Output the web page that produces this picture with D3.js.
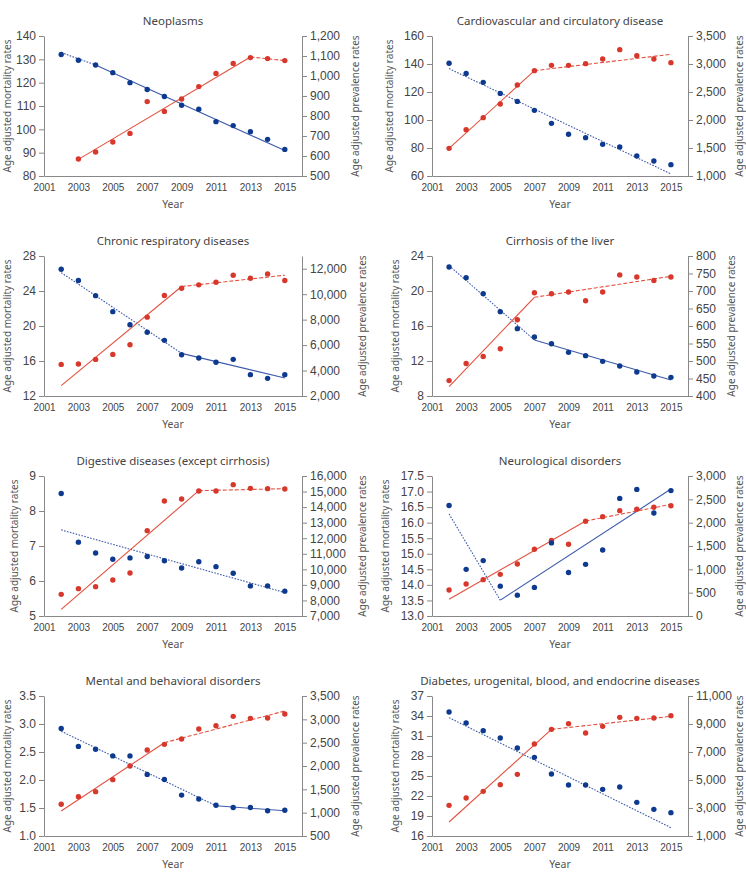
<!DOCTYPE html>
<html>
<head>
<meta charset="utf-8">
<script src="https://cdn.jsdelivr.net/npm/d3@7"></script>
<style>
  body { margin: 0; background: #fff; }
  svg text { font-family: "Noto Sans", sans-serif; }
  .tick text { font-family: "Liberation Sans", Arial, sans-serif; fill: #444; }
  .domain, .tick line { stroke: #888; }
</style>
</head>
<body>
<svg id="chart" width="746" height="881"></svg>
<script>
// years on the x axis
const years = [2002, 2003, 2004, 2005, 2006, 2007, 2008, 2009, 2010, 2011, 2012, 2013, 2014, 2015]
const xTicks = [2001, 2003, 2005, 2007, 2009, 2011, 2013, 2015]

const titles = [
  "Neoplasms",
  "Cardiovascular and circulatory disease",
  "Chronic respiratory diseases",
  "Cirrhosis of the liver",
  "Digestive diseases (except cirrhosis)",
  "Neurological disorders",
  "Mental and behavioral disorders",
  "Diabetes, urogenital, blood, and endocrine diseases"
]

// age adjusted mortality (left axis) / prevalence (right axis), one value per year
const neoplasmsMort = [132.1, 129.6, 127.6, 124.3, 120.0, 117.1, 114.1, 110.3, 108.6, 103.3, 101.6, 99.0, 95.7, 91.4]
const neoplasmsPrev = [null, 585, 620, 670, 713, 872, 823, 885, 947, 1013, 1063, 1092, 1087, 1077]
const cardioMort = [140.5, 133.3, 126.9, 119.0, 113.3, 106.9, 97.6, 89.8, 87.4, 82.6, 80.7, 74.3, 70.7, 68.1]
const cardioPrev = [1494, 1827, 2042, 2286, 2625, 2881, 2976, 2976, 3006, 3089, 3256, 3149, 3089, 3024]
const respMort = [26.48, 25.2, 23.47, 21.64, 20.15, 19.28, 18.36, 16.72, 16.34, 15.85, 16.19, 14.44, 14.02, 14.44]
const respPrev = [4484, 4510, 4876, 5268, 6026, 8196, 9895, 10471, 10732, 10941, 11490, 11255, 11595, 11072]
const liverMort = [22.74, 21.52, 19.7, 17.64, 15.7, 14.74, 13.98, 12.99, 12.61, 11.96, 11.43, 10.74, 10.29, 10.13]
const liverPrev = [444, 493, 513, 535, 618, 695, 692, 697, 672, 697, 746, 740, 730, 740]
const digestMort = [8.50, 7.11, 6.80, 6.62, 6.66, 6.70, 6.58, 6.37, 6.55, 6.41, 6.22, 5.86, 5.86, 5.71]
const digestPrev = [8393, 8757, 8886, 9315, 9765, 12486, 14393, 14522, 15036, 15036, 15443, 15207, 15186, 15164]
const neuroMort = [16.55, 14.5, 14.78, 13.96, 13.67, 13.92, 15.35, 14.40, 14.66, 15.12, 16.78, 17.07, 16.31, 17.03]
const neuroPrev = [557, 686, 779, 893, 1114, 1429, 1621, 1536, 2029, 2129, 2257, 2286, 2329, 2364]
const mentalMort = [2.92, 2.60, 2.55, 2.43, 2.43, 2.10, 2.01, 1.73, 1.66, 1.55, 1.51, 1.51, 1.45, 1.46]
const mentalPrev = [1179, 1343, 1450, 1707, 2000, 2343, 2464, 2579, 2793, 2864, 3064, 3021, 3029, 3114]
const diabetesMort = [34.6, 32.95, 31.8, 30.7, 29.2, 27.8, 25.3, 23.65, 23.65, 23.0, 23.35, 21.05, 20.0, 19.5]
const diabetesPrev = [3190, 3714, 4190, 4667, 5405, 7571, 8619, 9024, 8357, 8833, 9476, 9405, 9429, 9595]

// joinpoint fits: [year, value] at each joinpoint
const neoplasmsMortFit = [[2002, 132.9], [2004, 127.6], [2015, 90.9]]
const neoplasmsPrevFit = [[2003, 583], [2013, 1095], [2015, 1077]]
const cardioMortFit = [[2002, 136.7], [2015, 61.5]]
const cardioPrevFit = [[2002, 1494], [2007, 2881], [2015, 3173]]
const respMortFit = [[2002, 26.1], [2009, 16.87], [2015, 14.06]]
const respPrevFit = [[2002, 2810], [2009, 10601], [2015, 11490]]
const liverMortFit = [[2002, 22.9], [2007, 14.4], [2015, 9.83]]
const liverPrevFit = [[2002, 427], [2007, 682], [2015, 742]]
const digestMortFit = [[2002, 7.46], [2015, 5.67]]
const digestPrevFit = [[2002, 7429], [2010, 15057], [2015, 15186]]
const neuroMortFit = [[2002, 16.28], [2005, 13.51], [2015, 17.08]]
const neuroPrevFit = [[2002, 357], [2010, 2036], [2015, 2393]]
const mentalMortFit = [[2002, 2.87], [2011, 1.54], [2015, 1.45]]
const mentalPrevFit = [[2002, 1036], [2008, 2500], [2015, 3179]]
const diabetesMortFit = [[2002, 33.75], [2015, 17.25]]
const diabetesPrevFit = [[2002, 2000], [2008, 8619], [2015, 9548]]

// axis ranges
const mortDomains = [[80, 140], [60, 160], [12, 28], [8, 24], [5, 9], [13, 17.5], [1, 3.5], [16, 37]]
const mortSteps = [10, 20, 4, 4, 1, 0.5, 0.5, 3]
const prevDomains = [[500, 1200], [1000, 3500], [2000, 13000], [400, 800], [7000, 16000], [0, 3000], [500, 3500], [1000, 11000]]
const prevSteps = [100, 500, 2000, 50, 1000, 500, 500, 2000]

const mortSeries = [neoplasmsMort, cardioMort, respMort, liverMort, digestMort, neuroMort, mentalMort, diabetesMort]
const prevSeries = [neoplasmsPrev, cardioPrev, respPrev, liverPrev, digestPrev, neuroPrev, mentalPrev, diabetesPrev]
const mortFits = [neoplasmsMortFit, cardioMortFit, respMortFit, liverMortFit, digestMortFit, neuroMortFit, mentalMortFit, diabetesMortFit]
const prevFits = [neoplasmsPrevFit, cardioPrevFit, respPrevFit, liverPrevFit, digestPrevFit, neuroPrevFit, mentalPrevFit, diabetesPrevFit]

// layout
const colX = [44, 432]
const colW = [258, 256]
const rowY = [36, 256, 476, 696]
const plotH = 140
const pageW = 746

const blue = "#0d3a8e", blueLine = "#3d5aab"
const red = "#d8382c", redLine = "#e4513f"

const svg = d3.select("#chart")

titles.forEach((title, i) => {
  const col = i % 2, row = Math.floor(i / 2)
  const w = colW[col]
  const g = svg.append("g").attr("transform", `translate(${colX[col]},${rowY[row]})`)

  const x = d3.scaleLinear().domain([2001, 2016]).range([0, w])
  const yL = d3.scaleLinear().domain(mortDomains[i]).range([plotH, 0])
  const yR = d3.scaleLinear().domain(prevDomains[i]).range([plotH, 0])

  const tl = d3.range(mortDomains[i][0], mortDomains[i][1] + mortSteps[i] / 2, mortSteps[i])
  const tr = d3.range(prevDomains[i][0], prevDomains[i][1] + prevSteps[i] / 2, prevSteps[i])
  const leftFmt = mortSteps[i] < 1 ? d3.format(".1f") : d3.format("d")

  // axes
  const gx = g.append("g").attr("transform", `translate(0,${plotH})`)
    .call(d3.axisBottom(x).tickValues(xTicks).tickFormat(d3.format("d")).tickSize(0).tickPadding(8))
  gx.selectAll(".tick text").style("font-size", "10px")

  const gl = g.append("g")
    .call(d3.axisLeft(yL).tickValues(tl).tickFormat(leftFmt).tickSize(5).tickPadding(3).tickSizeOuter(0))
  gl.selectAll(".tick text").style("font-size", "12px")

  const gr = g.append("g").attr("transform", `translate(${w},0)`)
    .call(d3.axisRight(yR).tickValues(tr).tickFormat(d3.format(",")).tickSize(5).tickPadding(3).tickSizeOuter(0))
  gr.selectAll(".tick text").style("font-size", "12px")

  g.selectAll(".domain").attr("stroke", "#888")

  // axis titles, placed from the width of the tick labels, kept inside the page
  const maxW = sel => d3.max(sel.selectAll(".tick text").nodes(), n => n.getBBox().width)
  const lx = Math.max(-maxW(gl) - 8 - 15, 7 - colX[col])
  const rx = Math.min(w + 8 + maxW(gr) + 15, pageW - 7 - colX[col])

  g.append("text")
    .attr("transform", `translate(${lx},${plotH / 2}) rotate(-90)`)
    .attr("text-anchor", "middle").attr("dominant-baseline", "central")
    .style("font-size", "10px").style("fill", "#555")
    .text("Age adjusted mortality rates")

  g.append("text")
    .attr("transform", `translate(${rx},${plotH / 2}) rotate(-90)`)
    .attr("text-anchor", "middle").attr("dominant-baseline", "central")
    .style("font-size", "10px").style("fill", "#555")
    .text("Age adjusted prevalence rates")

  g.append("text")
    .attr("x", w / 2).attr("y", plotH + 32)
    .attr("text-anchor", "middle")
    .style("font-size", "10.5px").style("fill", "#555")
    .text("Year")

  g.append("text")
    .attr("x", w / 2).attr("y", -11)
    .attr("text-anchor", "middle")
    .style("font-size", "11.5px").style("fill", "#444")
    .text(title)

  // fitted segments: blue dotted then solid, red solid then dashed
  const mf = mortFits[i]
  for (let k = 0; k < mf.length - 1; k++) {
    g.append("line")
      .attr("x1", x(mf[k][0])).attr("y1", yL(mf[k][1]))
      .attr("x2", x(mf[k + 1][0])).attr("y2", yL(mf[k + 1][1]))
      .attr("stroke", blueLine).attr("stroke-width", 1.1)
      .attr("stroke-dasharray", k > 0 ? null : "1.6,1.4")
  }
  const pf = prevFits[i]
  for (let k = 0; k < pf.length - 1; k++) {
    g.append("line")
      .attr("x1", x(pf[k][0])).attr("y1", yR(pf[k][1]))
      .attr("x2", x(pf[k + 1][0])).attr("y2", yR(pf[k + 1][1]))
      .attr("stroke", redLine).attr("stroke-width", 1.1)
      .attr("stroke-dasharray", k > 0 ? "4,2" : null)
  }

  // points
  g.append("g").selectAll("circle")
    .data(years.map((yr, j) => [yr, prevSeries[i][j]]).filter(d => d[1] != null))
    .join("circle")
    .attr("cx", d => x(d[0])).attr("cy", d => yR(d[1])).attr("r", 2.7)
    .attr("fill", red)

  g.append("g").selectAll("circle")
    .data(years.map((yr, j) => [yr, mortSeries[i][j]]))
    .join("circle")
    .attr("cx", d => x(d[0])).attr("cy", d => yL(d[1])).attr("r", 2.7)
    .attr("fill", blue)
})
</script>
</body>
</html>
